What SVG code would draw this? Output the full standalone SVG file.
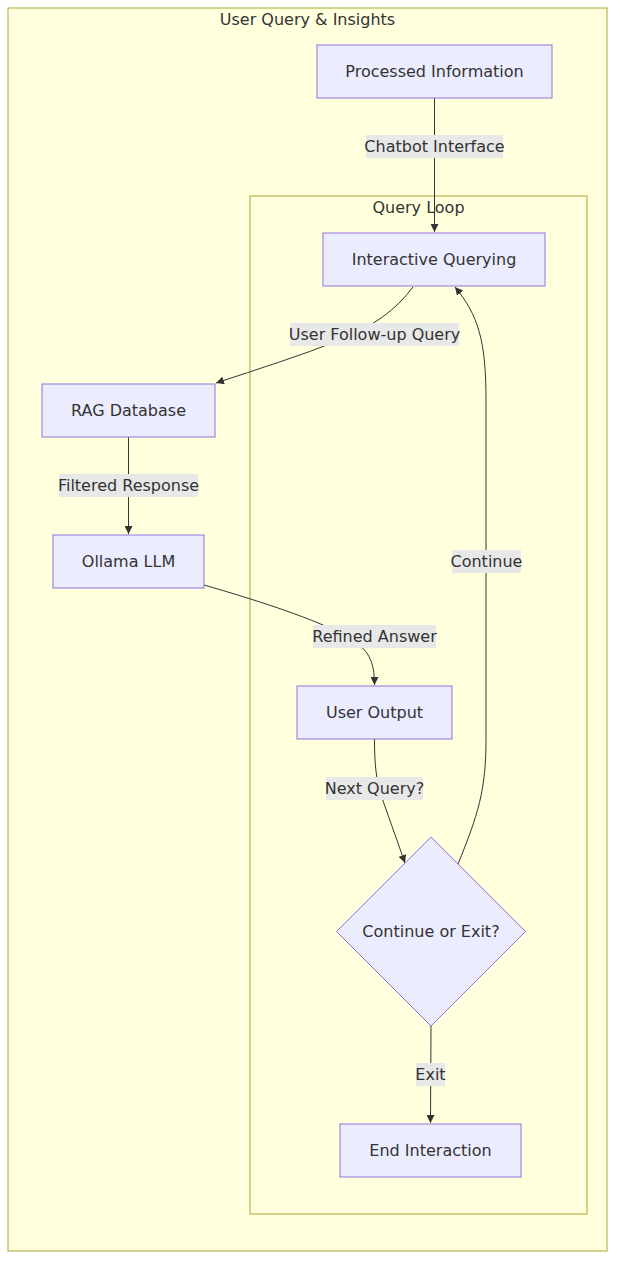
<svg xmlns="http://www.w3.org/2000/svg" width="623" height="1276" viewBox="0 0 623 1276">
<style>
text{font-family:"DejaVu Sans","Liberation Sans",sans-serif;font-size:16px;fill:#333333}
.cl{fill:#ffffde;stroke:#aaaa33;stroke-width:1}
.nd{fill:#ececff;stroke:#9370db;stroke-width:1}
.ed{fill:none;stroke:#333333;stroke-width:1}
.lb{fill:#e8e8e8}
</style>
<defs>
<marker id="ah" viewBox="0 0 10 10" refX="10" refY="5" markerWidth="8" markerHeight="8" markerUnits="userSpaceOnUse" orient="auto">
<path d="M0,0L10,5L0,10z" fill="#333333"/>
</marker>
</defs>
<rect width="623" height="1276" fill="#ffffff"/>
<g id="cluster-outer">
<rect class="cl" x="8" y="8" width="599" height="1243"/>
<text x="307.5" y="25" text-anchor="middle">User Query &amp; Insights</text>
</g>
<g id="cluster-loop">
<rect class="cl" x="250" y="196" width="337" height="1018"/>
<text x="418.5" y="213" text-anchor="middle">Query Loop</text>
</g>
<g id="connectors">
<path class="ed" d="M434.5,98L434.5,232" marker-end="url(#ah)"/>
<path class="ed" d="M413,287C396,310 372,327 340,340C300,356 258,369 216,383" marker-end="url(#ah)"/>
<path class="ed" d="M128.5,437L128.5,534" marker-end="url(#ah)"/>
<path class="ed" d="M204,585C256,600 316,619 350,638C368,650 374.5,660 374.5,685" marker-end="url(#ah)"/>
<path class="ed" d="M374.5,739C374.5,764 376,780 382,798L405,863" marker-end="url(#ah)"/>
<path class="ed" d="M458,864C478,815 486,790 486,740L486,400C486,340 478,315 455,287" marker-end="url(#ah)"/>
<path class="ed" d="M431,1026L430.5,1123" marker-end="url(#ah)"/>
<rect class="lb" x="366" y="135" width="137" height="23"/>
<text x="434.5" y="152" text-anchor="middle">Chatbot Interface</text>
<rect class="lb" x="290" y="323" width="169" height="23"/>
<text x="374.5" y="340" text-anchor="middle">User Follow-up Query</text>
<rect class="lb" x="59" y="474" width="139" height="23"/>
<text x="128.5" y="491" text-anchor="middle">Filtered Response</text>
<rect class="lb" x="313" y="625" width="123" height="23"/>
<text x="374.5" y="642" text-anchor="middle">Refined Answer</text>
<rect class="lb" x="326" y="777" width="97" height="23"/>
<text x="374.5" y="794" text-anchor="middle">Next Query?</text>
<rect class="lb" x="452" y="550" width="69" height="23"/>
<text x="486.5" y="567" text-anchor="middle">Continue</text>
<rect class="lb" x="416" y="1063" width="29" height="23"/>
<text x="430.5" y="1080" text-anchor="middle">Exit</text>
</g>
<g id="node-processed">
<rect class="nd" x="317" y="45" width="235" height="53"/>
<text x="434.5" y="77" text-anchor="middle">Processed Information</text>
</g>
<g id="node-interactive">
<rect class="nd" x="323" y="233" width="222" height="53"/>
<text x="434" y="265" text-anchor="middle">Interactive Querying</text>
</g>
<g id="node-rag">
<rect class="nd" x="42" y="384" width="173" height="53"/>
<text x="128.5" y="416" text-anchor="middle">RAG Database</text>
</g>
<g id="node-ollama">
<rect class="nd" x="53" y="535" width="151" height="53"/>
<text x="128.5" y="567" text-anchor="middle">Ollama LLM</text>
</g>
<g id="node-output">
<rect class="nd" x="297" y="686" width="155" height="53"/>
<text x="374.5" y="718" text-anchor="middle">User Output</text>
</g>
<g id="node-decision">
<polygon class="nd" points="431,837 525.5,931.5 431,1026 336.5,931.5"/>
<text x="431" y="937" text-anchor="middle">Continue or Exit?</text>
</g>
<g id="node-end">
<rect class="nd" x="340" y="1124" width="181" height="53"/>
<text x="430.5" y="1156" text-anchor="middle">End Interaction</text>
</g>
</svg>
